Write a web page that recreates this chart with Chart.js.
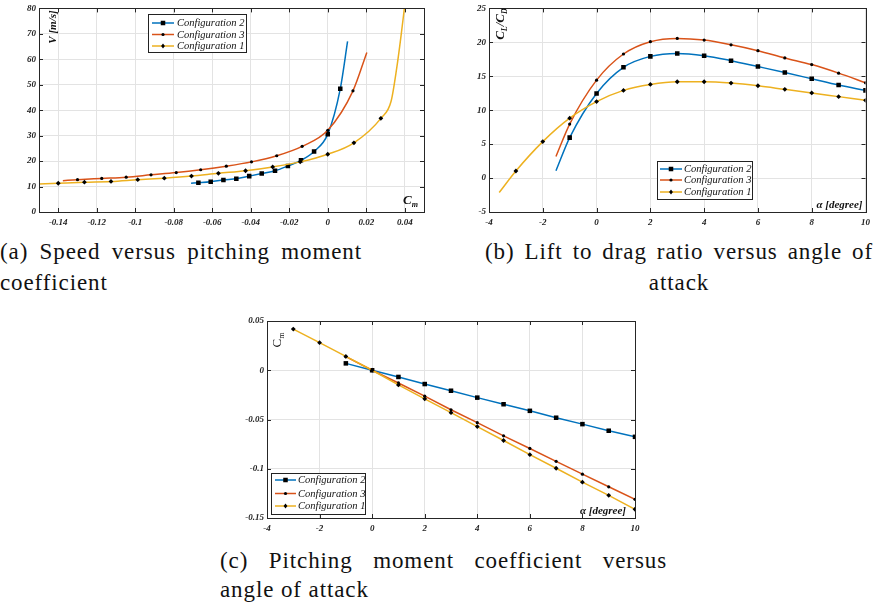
<!DOCTYPE html>
<html>
<head>
<meta charset="utf-8">
<script src="https://cdn.jsdelivr.net/npm/chart.js@4.4.1/dist/chart.umd.min.js"></script>
<style>
    body { margin: 0; background: #fff; width: 875px; height: 606px; position: relative; overflow: hidden; }
    .box { position: absolute; }
    .cap { position: absolute; font-family: "Liberation Serif", serif; font-size: 23px; line-height: 30px; height: 30px; white-space: nowrap; color: #111; }
    .just { text-align: justify; text-align-last: justify; }
</style>
</head>
<body>
<div class="box" style="left:0;top:0"><canvas id="chartA" width="440" height="230"></canvas></div>
<div class="box" style="left:440px;top:0"><canvas id="chartB" width="435" height="230"></canvas></div>
<div class="box" style="left:220px;top:305px"><canvas id="chartC" width="440" height="230"></canvas></div>

<div class="cap just" data-w="362" style="left:0;top:237px;width:362px">(a) Speed versus pitching moment</div>
<div class="cap" style="left:0;top:268px">coefficient</div>
<div class="cap just" data-w="388" style="left:485px;top:237px;width:388px">(b) Lift to drag ratio versus angle of</div>
<div class="cap" style="left:485px;top:268px;width:388px;text-align:center">attack</div>
<div class="cap just" data-w="447" style="left:220px;top:546px;width:447px">(c) Pitching moment coefficient versus</div>
<div class="cap" style="left:220px;top:575px">angle of attack</div>

<script>
// Series colours (MATLAB default order)
const BLUE = '#0072BD';
const RED = '#D95319';
const YELLOW = '#EDB120';

// ---- (a) speed vs pitching moment coefficient ----
// mark = 1 where the original plot has a marker, 0 for curve ends only
const a_cfg2_x = [-0.071, -0.0672, -0.0608, -0.0542, -0.0475, -0.0408, -0.0343, -0.0274, -0.0207, -0.0139, -0.0071, 0, 0.0065, 0.0103];
const a_cfg2_y = [11.3, 11.5, 11.9, 12.6, 13.1, 14.1, 15.1, 16.2, 18.1, 20.3, 23.8, 30.6, 48.4, 67.0];
const a_cfg2_mark = [0, 1, 1, 1, 1, 1, 1, 1, 1, 1, 1, 1, 1, 0];

const a_cfg3_x = [-0.1376, -0.130, -0.1174, -0.1047, -0.0918, -0.0787, -0.066, -0.0527, -0.0396, -0.0265, -0.0133, 0, 0.0131, 0.0203];
const a_cfg3_y = [12.3, 12.7, 13.2, 13.7, 14.6, 15.5, 16.6, 18.0, 19.7, 22.1, 25.8, 32.1, 47.6, 62.7];
const a_cfg3_mark = [0, 1, 1, 1, 1, 1, 1, 1, 1, 1, 1, 1, 1, 0];

const a_cfg1_x = [-0.15, -0.14, -0.1264, -0.1126, -0.0987, -0.0849, -0.0708, -0.0568, -0.0427, -0.0286, -0.0143, 0, 0.0136, 0.0276, 0.0329, 0.0358, 0.0381, 0.0398];
const a_cfg1_y = [11.0, 11.3, 11.7, 12.0, 12.7, 13.3, 14.1, 15.2, 16.2, 17.7, 19.7, 22.7, 27.2, 36.8, 43.5, 56.4, 69.4, 80];
const a_cfg1_mark = [0, 1, 1, 1, 1, 1, 1, 1, 1, 1, 1, 1, 1, 1, 0, 0, 0, 0];

const a_xTicks = [-0.14, -0.12, -0.1, -0.08, -0.06, -0.04, -0.02, 0, 0.02, 0.04];
const a_yTicks = [0, 10, 20, 30, 40, 50, 60, 70, 80];

// ---- (b) lift to drag ratio vs angle of attack ----
const b_cfg2_x = [-1.51, -1, 0, 1, 2, 3, 4, 5, 6, 7, 8, 9, 10];
const b_cfg2_y = [1.08, 5.96, 12.47, 16.32, 17.93, 18.37, 18.03, 17.3, 16.43, 15.55, 14.63, 13.7, 12.92];
const b_cfg2_mark = [0, 1, 1, 1, 1, 1, 1, 1, 1, 1, 1, 1, 1];

const b_cfg3_x = [-1.51, -1, 0, 1, 2, 3, 4, 5, 6, 7, 8, 9, 10];
const b_cfg3_y = [3.18, 7.96, 14.43, 18.28, 20.09, 20.58, 20.33, 19.64, 18.77, 17.7, 16.72, 15.46, 14.04];
const b_cfg3_mark = [0, 1, 1, 1, 1, 1, 1, 1, 1, 1, 1, 1, 1];

const b_cfg1_x = [-3.62, -3, -2, -1, 0, 1, 2, 3, 4, 5, 6, 7, 8, 9, 10];
const b_cfg1_y = [-2.13, 1.04, 5.37, 8.83, 11.27, 12.92, 13.8, 14.19, 14.19, 14.0, 13.6, 13.07, 12.54, 12.0, 11.46];
const b_cfg1_mark = [0, 1, 1, 1, 1, 1, 1, 1, 1, 1, 1, 1, 1, 1, 1];

const b_xTicks = [-4, -2, 0, 2, 4, 6, 8, 10];
const b_yTicks = [-5, 0, 5, 10, 15, 20, 25];

// ---- (c) pitching moment coefficient vs angle of attack ----
const c_cfg2_x = [-1, 0, 1, 2, 3, 4, 5, 6, 7, 8, 9, 10];
const c_cfg2_y = [0.007, 0, -0.0068, -0.014, -0.0208, -0.0278, -0.0345, -0.0412, -0.0482, -0.0547, -0.0614, -0.0676];

const c_cfg3_x = [-1, 0, 1, 2, 3, 4, 5, 6, 7, 8, 9, 10];
const c_cfg3_y = [0.0138, 0, -0.0129, -0.0263, -0.0401, -0.0532, -0.0666, -0.0794, -0.0925, -0.1055, -0.1183, -0.131];

const c_cfg1_x = [-3, -2, -1, 0, 1, 2, 3, 4, 5, 6, 7, 8, 9, 10];
const c_cfg1_y = [0.0418, 0.028, 0.014, 0, -0.0149, -0.029, -0.0431, -0.0572, -0.0713, -0.0857, -0.0995, -0.1136, -0.127, -0.1411];

const c_xTicks = [-4, -2, 0, 2, 4, 6, 8, 10];
const c_yTicks = [-0.15, -0.1, -0.05, 0, 0.05];

const SERIF = '"Liberation Serif", serif';

// Captions: a little letter spacing (the original face is wider), justify does the rest
(function () {
    const m = document.createElement('canvas').getContext('2d');
    m.font = '23px ' + SERIF;
    let ls = 0;
    document.querySelectorAll('.cap').forEach(el => {
        if (el.dataset.w) {
            const txt = el.textContent;
            const w = m.measureText(txt).width;
            ls = Math.max(0, Math.min(0.9, (+el.dataset.w - w) / txt.length));
        }
        el.style.letterSpacing = ls.toFixed(2) + 'px';
    });
})();

const TICK_FONT = { family: SERIF, size: 9, style: 'italic', weight: 'bold' };

function pts(xs, ys) {
    return xs.map((x, i) => ({ x: x, y: ys[i] }));
}

// Draws one marker in the style used by each configuration
function drawMarker(ctx, style, x, y, r) {
    ctx.fillStyle = '#000';
    ctx.beginPath();
    if (style === 'rect') {
        const s = r * Math.SQRT1_2;
        ctx.rect(x - s, y - s, 2 * s, 2 * s);
    } else if (style === 'rectRot') {
        ctx.moveTo(x, y - r);
        ctx.lineTo(x + r * 0.8, y);
        ctx.lineTo(x, y + r);
        ctx.lineTo(x - r * 0.8, y);
        ctx.closePath();
    } else {
        ctx.arc(x, y, r, 0, Math.PI * 2);
    }
    ctx.fill();
}

// Text made of pieces (base letters and subscripts), optionally rotated
function drawRich(ctx, parts, cx, cy, rot, align) {
    ctx.save();
    ctx.translate(cx, cy);
    if (rot) ctx.rotate(-Math.PI / 2);
    let w = 0;
    parts.forEach(p => { ctx.font = p.f; w += ctx.measureText(p.t).width; });
    let x = align === 'right' ? -w : (align === 'left' ? 0 : -w / 2);
    ctx.fillStyle = '#111';
    ctx.textAlign = 'left';
    ctx.textBaseline = 'alphabetic';
    parts.forEach(p => {
        ctx.font = p.f;
        ctx.fillText(p.t, x, p.dy || 0);
        x += ctx.measureText(p.t).width;
    });
    ctx.restore();
}

// Frame, inward ticks, axis names and legend box, MATLAB style
const framePlugin = {
    id: 'frame',
    afterDraw(chart, args, opts) {
        const ctx = chart.ctx;
        const a = chart.chartArea;
        const xs = chart.scales.x, ys = chart.scales.y;
        ctx.save();
        ctx.strokeStyle = '#262626';
        ctx.lineWidth = 1;
        ctx.beginPath();
        xs.ticks.forEach(t => {
            const px = Math.round(xs.getPixelForValue(t.value)) + 0.5;
            ctx.moveTo(px, a.bottom); ctx.lineTo(px, a.bottom - 4);
            ctx.moveTo(px, a.top); ctx.lineTo(px, a.top + 4);
        });
        ys.ticks.forEach(t => {
            const py = Math.round(ys.getPixelForValue(t.value)) + 0.5;
            ctx.moveTo(a.left, py); ctx.lineTo(a.left + 4, py);
            ctx.moveTo(a.right, py); ctx.lineTo(a.right - 4, py);
        });
        ctx.stroke();
        ctx.strokeRect(Math.round(a.left) + 0.5, Math.round(a.top) + 0.5, Math.round(a.right - a.left), Math.round(a.bottom - a.top));

        if (opts.labels) opts.labels(ctx, a);

        const L = opts.legend;
        if (L) {
            ctx.fillStyle = '#fff';
            ctx.fillRect(L.l, L.t, L.r - L.l, L.b - L.t);
            ctx.strokeStyle = '#222';
            ctx.strokeRect(L.l + 0.5, L.t + 0.5, L.r - L.l, L.b - L.t);
            L.order.forEach((di, i) => {
                const d = chart.data.datasets[di];
                const y = L.ys[i];
                ctx.strokeStyle = d.borderColor;
                ctx.lineWidth = 1.5;
                ctx.beginPath();
                ctx.moveTo(L.x0, y); ctx.lineTo(L.x1, y);
                ctx.stroke();
                drawMarker(ctx, d.pointStyle, (L.x0 + L.x1) / 2, y, d.markerSize);
                ctx.fillStyle = '#111';
                ctx.font = 'italic 10.5px ' + SERIF;
                ctx.textAlign = 'left';
                ctx.textBaseline = 'middle';
                ctx.fillText(d.label, L.tx, y + 0.5);
            });
        }
        ctx.restore();
    }
};

function series(label, xs, ys, mark, color, style, size, order, smooth) {
    return {
        label: label,
        data: pts(xs, ys),
        borderColor: color,
        backgroundColor: '#000',
        borderWidth: 1.5,
        pointStyle: style,
        markerSize: size,
        pointRadius: c => (!mark || mark[c.dataIndex]) ? size : 0,
        pointBorderWidth: 0,
        pointBackgroundColor: '#000',
        cubicInterpolationMode: smooth ? 'monotone' : 'default',
        tension: 0,
        order: order
    };
}

function axis(min, max, ticks, fit, pad) {
    return {
        type: 'linear',
        min: min,
        max: max,
        afterBuildTicks: s => { s.ticks = ticks.map(v => ({ value: v })); },
        afterFit: fit,
        ticks: {
            font: TICK_FONT,
            color: '#222',
            padding: pad,
            autoSkip: false,
            maxRotation: 0,
            callback: v => String(Math.round(v * 10000) / 10000)
        },
        grid: { color: '#e3e3e3', lineWidth: 1, drawTicks: false },
        border: { display: false }
    };
}

function makeChart(id, datasets, cfg) {
    return new Chart(document.getElementById(id), {
        type: 'line',
        data: { datasets: datasets },
        options: {
            responsive: false,
            animation: false,
            layout: { padding: { top: cfg.top, right: cfg.right, left: 0, bottom: 0 } },
            plugins: {
                legend: { display: false },
                tooltip: { enabled: false },
                frame: { labels: cfg.labels, legend: cfg.legend }
            },
            scales: {
                x: axis(cfg.xmin, cfg.xmax, cfg.xTicks, s => { s.height = cfg.xh; }, 5),
                y: axis(cfg.ymin, cfg.ymax, cfg.yTicks, s => { s.width = cfg.yw; }, 3)
            }
        },
        plugins: [framePlugin]
    });
}

const BI = n => 'italic bold ' + n + 'px ' + SERIF;
const RG = n => n + 'px ' + SERIF;

makeChart('chartA', [
    series('Configuration 2', a_cfg2_x, a_cfg2_y, a_cfg2_mark, BLUE, 'rect', 3.2, 2, true),
    series('Configuration 3', a_cfg3_x, a_cfg3_y, a_cfg3_mark, RED, 'circle', 1.6, 1, true),
    series('Configuration 1', a_cfg1_x, a_cfg1_y, a_cfg1_mark, YELLOW, 'rectRot', 2.4, 0, true)
], {
    xmin: -0.15, xmax: 0.05, ymin: 0, ymax: 80, xTicks: a_xTicks, yTicks: a_yTicks,
    top: 6, right: 16, xh: 18, yw: 39,
    labels: (ctx, a) => {
        drawRich(ctx, [{ t: 'V [m/s]', f: BI(11), dy: 4 }], 52, 27, true);
        drawRich(ctx, [{ t: 'C', f: BI(13) }, { t: 'm', f: BI(8), dy: 3 }], 403, 204, false, 'left');
    },
    legend: { l: 148, t: 14, r: 246, b: 52, ys: [23, 34.5, 46], x0: 152, x1: 174, tx: 177, order: [0, 1, 2] }
});

makeChart('chartB', [
    series('Configuration 2', b_cfg2_x, b_cfg2_y, b_cfg2_mark, BLUE, 'rect', 3.2, 2, true),
    series('Configuration 3', b_cfg3_x, b_cfg3_y, b_cfg3_mark, RED, 'circle', 1.6, 1, true),
    series('Configuration 1', b_cfg1_x, b_cfg1_y, b_cfg1_mark, YELLOW, 'rectRot', 2.4, 0, true)
], {
    xmin: -4, xmax: 10, ymin: -5, ymax: 25, xTicks: b_xTicks, yTicks: b_yTicks,
    top: 7, right: 5, xh: 18, yw: 49,
    labels: (ctx, a) => {
        drawRich(ctx, [
            { t: 'C', f: BI(13), dy: 4 }, { t: 'L', f: BI(8), dy: 7 },
            { t: '/C', f: BI(13), dy: 4 }, { t: 'D', f: BI(8), dy: 7 }
        ], 60, 24, true);
        drawRich(ctx, [{ t: '\u03b1 [degree]', f: BI(11) }], a.right - 3, a.bottom - 4, false, 'right');
    },
    legend: { l: 217, t: 161, r: 312, b: 199, ys: [169, 180, 192], x0: 220, x1: 242, tx: 244, order: [0, 1, 2] }
});

makeChart('chartC', [
    series('Configuration 2', c_cfg2_x, c_cfg2_y, null, BLUE, 'rect', 3.2, 2, false),
    series('Configuration 3', c_cfg3_x, c_cfg3_y, null, RED, 'circle', 1.6, 1, false),
    series('Configuration 1', c_cfg1_x, c_cfg1_y, null, YELLOW, 'rectRot', 2.4, 0, false)
], {
    xmin: -4, xmax: 10, ymin: -0.15, ymax: 0.05, xTicks: c_xTicks, yTicks: c_yTicks,
    top: 16, right: 25, xh: 17, yw: 47,
    labels: (ctx, a) => {
        drawRich(ctx, [{ t: 'C', f: RG(13), dy: 4 }, { t: 'm', f: RG(8), dy: 7 }], 57, 35, true);
        drawRich(ctx, [{ t: '\u03b1 [degree]', f: BI(11) }], a.right - 9, a.bottom - 4, false, 'right');
    },
    legend: { l: 51, t: 168, r: 145, b: 209, ys: [175, 188.5, 201], x0: 55, x1: 76, tx: 78, order: [0, 1, 2] }
});
</script>
</body>
</html>
